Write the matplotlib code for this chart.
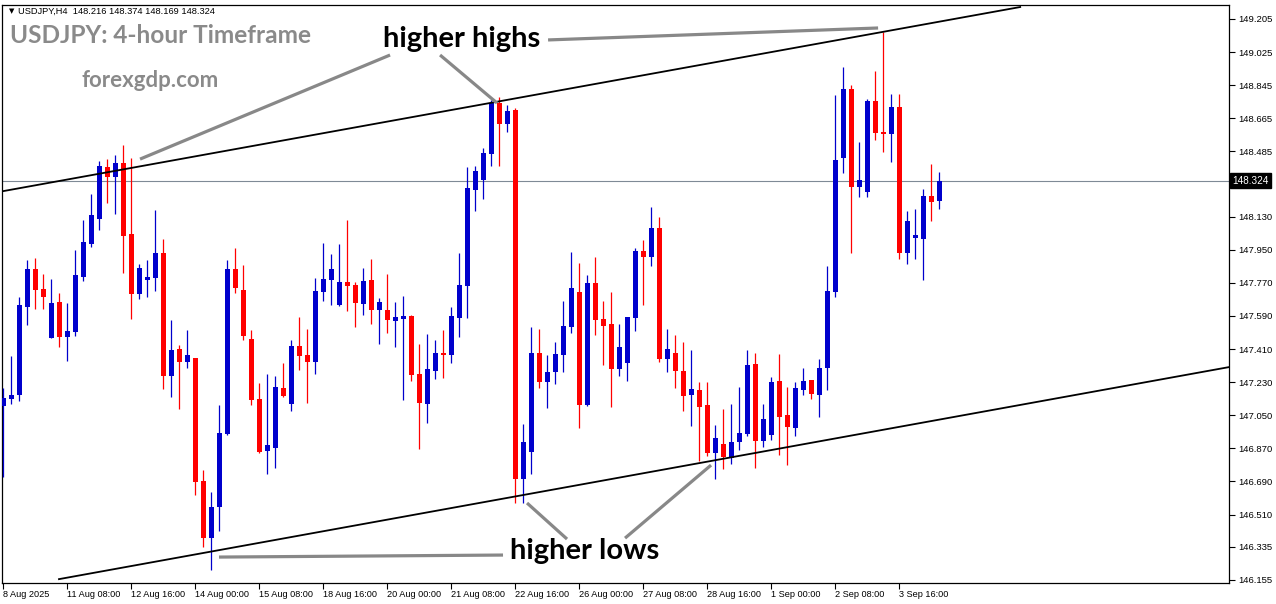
import matplotlib
matplotlib.use("Agg")
import matplotlib.pyplot as plt

# H4 candles, USDJPY 8 Aug - 3 Sep 2025
opens = [147.100, 147.138, 147.160, 147.639, 147.845, 147.737, 147.470, 147.666, 147.475, 147.503,
         147.802, 147.981, 148.117, 148.400, 148.346, 148.422, 148.035, 147.709, 147.785, 147.796,
         147.932, 147.263, 147.410, 147.339, 147.361, 146.692, 146.382, 146.551, 146.948, 147.845,
         147.731, 147.465, 147.138, 146.855, 146.872, 147.198, 147.111, 147.426, 147.378, 147.339,
         147.720, 147.785, 147.650, 147.775, 147.758, 147.655, 147.785, 147.622, 147.622, 147.562,
         147.573, 147.590, 147.274, 147.111, 147.291, 147.388, 147.378, 147.579, 147.753, 148.275,
         148.329, 148.471, 148.748, 148.634, 148.710, 146.703, 146.850, 147.388, 147.231, 147.285,
         147.378, 147.530, 147.720, 147.106, 147.769, 147.573, 147.546, 147.302, 147.334, 147.579,
         147.943, 147.910, 148.068, 147.356, 147.388, 147.291, 147.160, 147.187, 147.106, 146.845,
         146.894, 146.817, 146.904, 146.948, 147.329, 146.910, 146.943, 147.236, 147.051, 146.981,
         147.187, 147.242, 147.160, 147.307, 147.720, 148.449, 148.824, 148.291, 148.264, 148.759,
         148.590, 148.579, 148.726, 147.932, 148.014, 148.008, 148.242, 148.216]
highs = [147.198, 147.372, 147.693, 147.894, 147.905, 147.818, 147.791, 147.715, 147.660, 147.949,
         148.112, 148.253, 148.433, 148.443, 148.465, 148.520, 148.449, 147.872, 147.894, 148.166,
         148.008, 147.568, 147.432, 147.513, 147.361, 146.752, 146.632, 147.106, 147.894, 147.959,
         147.867, 147.513, 147.225, 147.274, 147.263, 147.334, 147.459, 147.584, 147.519, 147.796,
         147.987, 147.927, 147.981, 148.112, 147.775, 147.851, 147.900, 147.688, 147.818, 147.666,
         147.698, 147.595, 147.437, 147.492, 147.459, 147.513, 147.639, 147.932, 148.400, 148.405,
         148.503, 148.764, 148.781, 148.737, 148.721, 147.002, 147.530, 147.519, 147.378, 147.448,
         147.671, 147.938, 147.878, 147.813, 147.910, 147.671, 147.720, 147.546, 147.584, 147.959,
         148.003, 148.182, 148.128, 147.519, 147.486, 147.448, 147.405, 147.231, 147.231, 146.997,
         147.084, 147.111, 147.204, 147.405, 147.388, 147.111, 147.258, 147.383, 147.204, 147.231,
         147.307, 147.242, 147.356, 147.861, 148.791, 148.944, 148.846, 148.536, 148.770, 148.922,
         149.134, 148.797, 148.797, 148.161, 148.172, 148.280, 148.416, 148.374]
lows = [146.714, 147.111, 147.127, 147.541, 147.628, 147.628, 147.470, 147.421, 147.345, 147.481,
        147.780, 147.965, 148.057, 148.204, 148.144, 147.823, 147.573, 147.682, 147.693, 147.726,
        147.193, 147.149, 147.084, 147.307, 146.616, 146.334, 146.208, 146.420, 146.943, 147.715,
        147.459, 147.106, 146.845, 146.730, 146.763, 147.149, 147.073, 147.296, 147.117, 147.274,
        147.671, 147.650, 147.645, 147.617, 147.530, 147.595, 147.546, 147.437, 147.497, 147.421,
        147.133, 147.236, 146.866, 147.008, 147.247, 147.252, 147.334, 147.475, 147.579, 148.161,
        148.226, 148.405, 148.405, 148.590, 146.573, 146.573, 146.730, 147.198, 147.089, 147.220,
        147.285, 147.497, 146.981, 147.100, 147.486, 147.323, 147.095, 147.263, 147.236, 147.508,
        147.650, 147.861, 147.339, 147.285, 147.198, 147.073, 146.991, 146.801, 146.828, 146.703,
        146.758, 146.785, 146.861, 146.937, 146.763, 146.877, 146.915, 146.834, 146.779, 146.937,
        147.160, 147.138, 147.040, 147.187, 147.693, 148.367, 147.932, 148.237, 148.237, 148.547,
        148.481, 148.427, 147.900, 147.872, 147.900, 147.785, 148.106, 148.169]
closes = [147.144, 147.160, 147.650, 147.845, 147.731, 147.693, 147.660, 147.475, 147.508, 147.813,
          147.992, 148.139, 148.405, 148.346, 148.422, 148.025, 147.709, 147.851, 147.802, 147.932,
          147.263, 147.405, 147.339, 147.378, 146.687, 146.382, 146.551, 146.953, 147.845, 147.742,
          147.481, 147.133, 146.850, 146.888, 147.204, 147.155, 147.426, 147.372, 147.339, 147.726,
          147.791, 147.845, 147.775, 147.753, 147.660, 147.780, 147.622, 147.666, 147.568, 147.584,
          147.590, 147.269, 147.117, 147.302, 147.388, 147.378, 147.590, 147.758, 148.286, 148.378,
          148.476, 148.748, 148.634, 148.704, 146.703, 146.904, 147.388, 147.231, 147.285, 147.383,
          147.535, 147.742, 147.106, 147.769, 147.568, 147.535, 147.302, 147.421, 147.584, 147.943,
          147.910, 148.068, 147.356, 147.410, 147.291, 147.155, 147.193, 147.095, 146.845, 146.926,
          146.823, 146.904, 146.953, 147.323, 146.910, 147.030, 147.231, 147.040, 146.986, 147.198,
          147.236, 147.165, 147.307, 147.726, 148.438, 148.824, 148.291, 148.329, 148.759, 148.585,
          148.579, 148.726, 147.932, 148.106, 148.030, 148.242, 148.210, 148.324]

date_labels = ["8 Aug 2025", "11 Aug 08:00", "12 Aug 16:00", "14 Aug 00:00", "15 Aug 08:00",
               "18 Aug 16:00", "20 Aug 00:00", "21 Aug 08:00", "22 Aug 16:00", "26 Aug 00:00",
               "27 Aug 08:00", "28 Aug 16:00", "1 Sep 00:00", "2 Sep 08:00", "3 Sep 16:00"]
price_ticks = [149.205, 149.025, 148.845, 148.665, 148.485, 148.130, 147.950, 147.770, 147.590,
               147.410, 147.230, 147.050, 146.870, 146.690, 146.510, 146.335, 146.155]
last_price = 148.324

# channel lines (bar index, price)
upper_line = ([0.0, 127.1], [148.269, 149.270])
lower_line = ([6.96, 153.2], [146.159, 147.312])
# grey pointer lines
pointers = [([17.09, 48.34], [148.443, 149.009]),
            ([54.59, 61.71], [149.009, 148.748]),
            ([68.09, 109.34], [149.091, 149.156]),
            ([26.96, 62.46], [146.279, 146.290]),
            ([65.46, 70.46], [146.573, 146.377]),
            ([77.71, 88.46], [146.382, 146.779])]

W, H = 1276, 604
fig = plt.figure(figsize=(W / 100, H / 100), dpi=100)
ax = fig.add_axes([2.5 / W, (H - 583) / H, (1229 - 2.5) / W, (583 - 5) / H])

up_col = "#0000cc"
dn_col = "#ff0000"
for i in range(len(opens)):
    o, h, l, c = opens[i], highs[i], lows[i], closes[i]
    col = up_col if c >= o else dn_col
    ax.vlines(i, l, h, color=col, lw=0.9, zorder=3)
    body = max(abs(c - o), 0.006)
    ax.bar(i, body, bottom=min(o, c), width=0.62, color=col, lw=0, zorder=4)

ax.plot(*upper_line, color="black", lw=1.3, zorder=5)
ax.plot(*lower_line, color="black", lw=1.3, zorder=5)
for xs, ys in pointers:
    ax.plot(xs, ys, color="#888888", lw=2.3, solid_capstyle="butt", zorder=6)

ax.axhline(last_price, color="#7f8a96", lw=0.8, zorder=2)

ax.set_xlim(-0.1, 153.2)
ax.set_ylim(146.138, 149.281)

ax.set_xticks(range(0, 8 * len(date_labels), 8))
ax.set_xticklabels(date_labels, ha="left", fontfamily="Liberation Sans", fontsize=6.6)
ax.tick_params(axis="x", direction="out", length=4, width=0.8, pad=1)

ax.yaxis.tick_right()
ax.set_yticks(price_ticks)
ax.set_yticklabels([f"{v:.3f}" for v in price_ticks], fontfamily="Liberation Sans", fontsize=6.8)
ax.tick_params(axis="y", direction="out", length=4, width=0.8, pad=3)

for s in ax.spines.values():
    s.set_linewidth(0.9)

ax.annotate(f"{last_price:.3f}", xy=(1, last_price), xycoords=("axes fraction", "data"),
            xytext=(2.5, 0), textcoords="offset points", ha="left", va="center",
            fontfamily="Liberation Sans", fontsize=7.2, color="white",
            bbox=dict(boxstyle="square,pad=0.25", fc="black", ec="black"), annotation_clip=False)

def px(x, y):
    return x / W, 1 - y / H

fig.text(*px(9, 11), "\u25bc", fontsize=5, ha="left", va="center", color="black")
fig.text(*px(18, 11), "USDJPY,H4  148.216 148.374 148.169 148.324", fontfamily="Liberation Sans",
         fontsize=6.7, ha="left", va="center", color="black")
fig.text(*px(10, 43), "USDJPY: 4-hour Timeframe", fontfamily="Lato", fontweight="bold",
         fontsize=17.6, color="#8a8a8a", ha="left", va="baseline")
fig.text(*px(82, 87), "forexgdp.com", fontfamily="Lato", fontweight="bold",
         fontsize=16, color="#8a8a8a", ha="left", va="baseline")
fig.text(*px(383, 47), "higher highs", fontfamily="Lato", fontweight="bold",
         fontsize=21, color="black", ha="left", va="baseline")
fig.text(*px(510, 559), "higher lows", fontfamily="Lato", fontweight="bold",
         fontsize=21, color="black", ha="left", va="baseline")

fig.savefig("out.png", dpi=100)
